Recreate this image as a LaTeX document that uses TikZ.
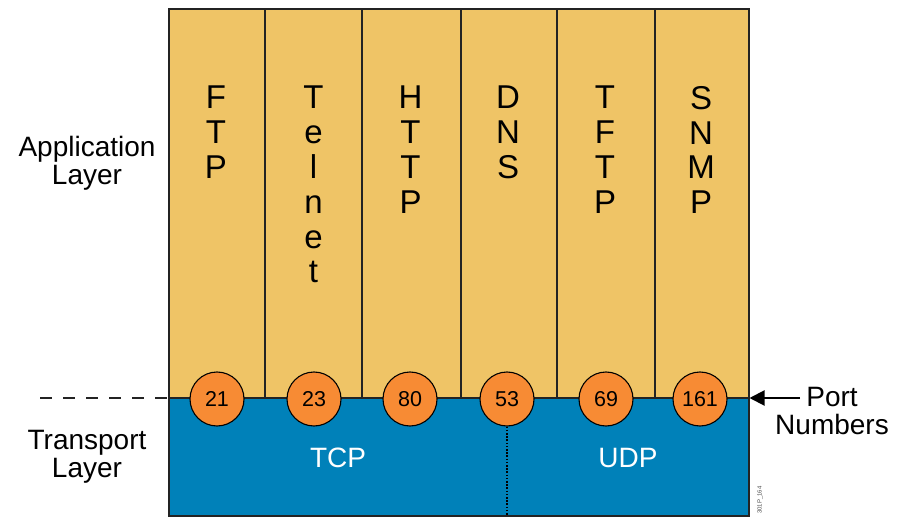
\documentclass[tikz,border=0pt]{standalone}
\usepackage{fontspec}
\setmainfont{Liberation Sans}
\usetikzlibrary{arrows.meta}
\definecolor{appyellow}{RGB}{239,196,102}
\definecolor{tblue}{RGB}{0,129,185}
\definecolor{porange}{RGB}{247,139,52}
\definecolor{edge}{RGB}{35,35,35}
\begin{document}
\begin{tikzpicture}[x=1pt,y=-1pt,
  colrect/.style={draw=edge, line width=1.3pt, fill=appyellow},
  proto/.style={anchor=north, inner sep=0pt, align=center, font=\fontsize{33}{34.8}\selectfont},
  port/.style={circle, draw=black, line width=1.1pt, fill=porange, minimum size=54pt, inner sep=0pt, font=\fontsize{21.5}{21.5}\selectfont},
  lbl/.style={align=center, inner sep=0pt, font=\fontsize{28}{28}\selectfont},
  tlbl/.style={inner sep=0pt, text=white, font=\fontsize{28}{28}\selectfont}
]
\useasboundingbox (0,0) rectangle (907,526);
% application columns
\draw[colrect] (169,9) rectangle (265,398);
\draw[colrect] (265,9) rectangle (362,398);
\draw[colrect] (362,9) rectangle (461,398);
\draw[colrect] (461,9) rectangle (557,398);
\draw[colrect] (557,9) rectangle (655,398);
\draw[colrect] (655,9) rectangle (749,398);
% transport
\draw[fill=tblue, draw=edge, line width=1.3pt] (169,398) rectangle (749,516);
\coordinate (boxW) at (169,398);
\coordinate (boxE) at (749.5,398);
\coordinate (dashS) at (40,398);
\coordinate (arrS) at (800,398);
\coordinate (dotE) at (507,516);
% protocol names
\node[proto] (ftp) at (216,86) {F\\T\\P};
\node[proto] (telnet) at (313.5,86) {T\\e\\l\\n\\e\\t};
\node[proto] (http) at (410.5,86) {H\\T\\T\\P};
\node[proto] (dns) at (508,86) {D\\N\\S};
\node[proto] (tftp) at (605,86) {T\\F\\T\\P};
\node[proto] (snmp) at (701,86) {S\\N\\M\\P};
% dotted separator
\node[port] (p53) at (507,399) {53};
\draw[line width=1.6pt, dash pattern=on 1.6pt off 1.6pt, black] (p53.south) -- (dotE);
% ports
\node[port] (p21) at (217,399) {21};
\node[port] (p23) at (314,399) {23};
\node[port] (p80) at (410,399) {80};
\node[port] (p69) at (606,399) {69};
\node[port] (p161) at (700,399) {161};
% dashed line
\draw[line width=2pt, dash pattern=on 12pt off 11pt, edge] (dashS) -- (boxW);
% labels
\node[lbl] (app) at (87,163.5) {Application\\Layer};
\node[lbl] (trans) at (87,456.5) {Transport\\Layer};
\node[tlbl] (tcp) at (338,458) {TCP};
\node[tlbl] (udp) at (628,458) {UDP};
\node[lbl] (pn) at (832,411) {Port\\Numbers};
\draw[line width=2pt, -{Triangle[length=15pt,width=15pt]}] (arrS) -- (boxE);
\node[rotate=90, inner sep=0pt, font=\fontsize{6}{6}\selectfont, text=black!70] (code) at (760,500) {301P\_164};
\end{tikzpicture}
\end{document}
